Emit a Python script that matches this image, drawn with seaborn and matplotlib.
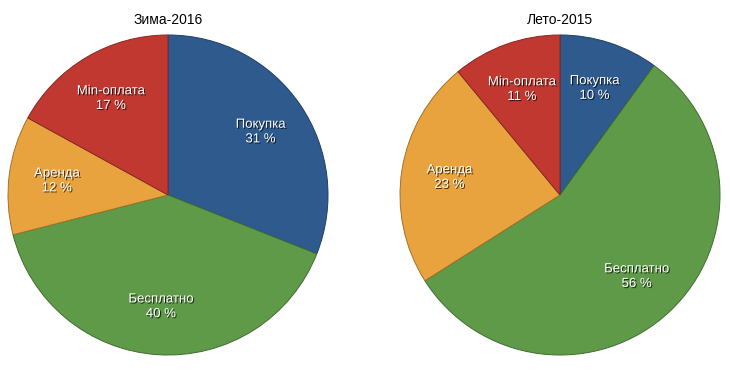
import matplotlib
matplotlib.use("Agg")
import matplotlib.pyplot as plt
import matplotlib.patheffects as pe
import matplotlib.colors as mcolors
import seaborn as sns

categories = ["Покупка", "Бесплатно", "Аренда", "Min-оплата"]
winter_2016 = [31, 40, 12, 17]
summer_2015 = [10, 56, 23, 11]
titles = ["Зима-2016", "Лето-2015"]
colors = ["#2E5A8E", "#5E9A48", "#E8A33E", "#C0382F"]

sns.set_theme(style="white")
plt.rcParams['font.family'] = ['Liberation Sans', 'DejaVu Sans']

fig = plt.figure(figsize=(7.3, 3.7), dpi=100)
ax1 = fig.add_axes([8/730, 15/370, 320/730, 320/370])
ax2 = fig.add_axes([400/730, 15/370, 320/730, 320/370])

shadow = [pe.SimplePatchShadow(offset=(0.8, -0.8), shadow_rgbFace='black', alpha=0.7), pe.Normal()]

def darker(c, f=0.7):
    r, g, b = mcolors.to_rgb(c)
    return (r * f, g * f, b * f)

for ax, vals, title in zip([ax1, ax2], [winter_2016, summer_2015], titles):
    labels = [f"{c}\n{v} %" for c, v in zip(categories, vals)]
    wedges, texts = ax.pie(vals, colors=colors, startangle=90, counterclock=False,
                           labels=labels, labeldistance=0.7,
                           wedgeprops=dict(linewidth=0.7),
                           textprops=dict(color="white", fontsize=9.5, ha="center", va="center",
                                          linespacing=1.3))
    for w, c in zip(wedges, colors):
        w.set_edgecolor(darker(c))
    for t in texts:
        t.set_path_effects(shadow)
        t.set_horizontalalignment("center")
    ax.set_aspect("equal")
    ax.set_xlim(-1, 1)
    ax.set_ylim(-1, 1)
    ax.set_title(title, fontsize=10, color="black", pad=8)

fig.savefig("out.png", dpi=100)
